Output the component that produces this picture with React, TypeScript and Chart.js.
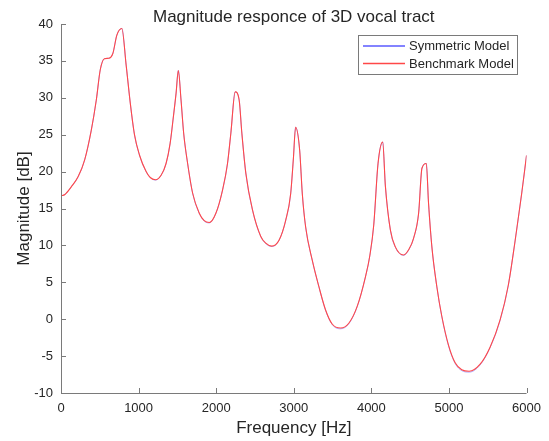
import React, { useEffect, useRef } from "react";
import { Chart, registerables } from "chart.js";

Chart.register(...registerables);

const frequencyHz = [
  0, 50, 130, 220, 305, 390, 455, 506, 560, 615,
  668, 720, 784, 840, 896, 947, 1011, 1097, 1150, 1217,
  1290, 1354, 1406, 1448, 1483, 1512, 1547, 1581, 1632, 1696,
  1782, 1846, 1911, 1996, 2082, 2146, 2189, 2245, 2296, 2331,
  2382, 2468, 2575, 2639, 2716, 2810, 2896, 2960, 2994, 3024,
  3076, 3110, 3153, 3238, 3324, 3410, 3495, 3603, 3709, 3816,
  3924, 3980, 4031, 4086, 4146, 4181, 4245, 4309, 4416, 4480,
  4545, 4609, 4652, 4708, 4737, 4780, 4844, 4908, 4994, 5080,
  5165, 5260, 5402, 5530, 5659, 5765, 5851, 5937, 6000,
];

const benchmarkDb = [
  16.7, 16.9, 17.9, 19.3, 21.6, 25.6, 29.7, 33.8, 35.3, 35.35,
  36.0, 38.5, 39.4, 34.4, 29.0, 25.0, 22.25, 20.0, 19.2, 18.9,
  19.5, 21.1, 23.8, 27.4, 30.6, 33.7, 29.7, 25.2, 21.1, 17.1,
  14.35, 13.35, 13.1, 14.35, 17.5, 21.1, 25.2, 30.8, 29.7, 25.2,
  19.8, 14.8, 11.2, 10.3, 9.9, 10.7, 13.4, 17.0, 21.6, 26.0,
  22.9, 17.0, 12.5, 8.0, 4.4, 1.25, -0.65, -1.2, -0.55, 1.7,
  5.75, 8.6, 12.8, 21.1, 24.0, 18.0, 12.1, 9.8, 8.7, 9.4,
  11.0, 14.35, 20.45, 21.1, 15.7, 9.8, 4.4, 0.4, -3.5, -5.9,
  -6.85, -7.05, -6.1, -3.8, -0.1, 4.6, 10.5, 17.0, 22.2,
];

const symmetricDb = [
  16.7, 16.9, 17.9, 19.3, 21.6, 25.6, 29.7, 33.8, 35.3, 35.35,
  36.0, 38.5, 39.4, 34.4, 29.0, 25.0, 22.25, 20.0, 19.2, 18.85,
  19.5, 21.1, 23.8, 27.4, 30.6, 33.7, 29.7, 25.2, 21.1, 17.1,
  14.35, 13.3, 13.05, 14.35, 17.5, 21.1, 25.2, 30.8, 29.7, 25.2,
  19.8, 14.8, 11.2, 10.25, 9.85, 10.7, 13.4, 17.0, 21.6, 26.0,
  22.9, 17.0, 12.5, 8.0, 4.4, 1.2, -0.72, -1.3, -0.62, 1.65,
  5.75, 8.6, 12.8, 21.1, 24.0, 18.0, 12.1, 9.75, 8.65, 9.35,
  11.0, 14.35, 20.45, 21.1, 15.7, 9.8, 4.4, 0.35, -3.6, -6.0,
  -6.97, -7.17, -6.2, -3.85, -0.15, 4.6, 10.5, 17.0, 22.2,
];

const seriesLabels = ["Symmetric Model", "Benchmark Model"];
const xTickValues = [0, 1000, 2000, 3000, 4000, 5000, 6000];
const yTickValues = [-10, -5, 0, 5, 10, 15, 20, 25, 30, 35, 40];
const chartTitle = "Magnitude responce of 3D vocal tract";
const xAxisTitle = "Frequency [Hz]";
const yAxisTitle = "Magnitude [dB]";

const FONT = '"Liberation Sans", Arial, Helvetica, sans-serif';
const TEXT = "#262626";
const AXIS = "#7a7a7a";
const BLUE = "#5a5aff";
const RED = "#ff4848";
const seriesColors = [BLUE, RED];

const decorPlugin = {
  id: "decor",
  afterDraw(chart: any) {
    const { ctx, chartArea } = chart;
    const { left, right, top, bottom } = chartArea;
    const xs = chart.scales.x;
    const ys = chart.scales.y;
    ctx.save();
    ctx.strokeStyle = AXIS;
    ctx.lineWidth = 1;
    ctx.beginPath();
    ctx.moveTo(left + 0.5, top);
    ctx.lineTo(left + 0.5, bottom + 0.5);
    ctx.lineTo(right, bottom + 0.5);
    ctx.stroke();
    ctx.beginPath();
    xTickValues.forEach((v) => {
      const px = Math.round(xs.getPixelForValue(v)) + 0.5;
      ctx.moveTo(px, bottom);
      ctx.lineTo(px, bottom - 5);
    });
    yTickValues.forEach((v) => {
      const py = Math.round(ys.getPixelForValue(v)) + 0.5;
      ctx.moveTo(left, py);
      ctx.lineTo(left + 5, py);
    });
    ctx.stroke();

    ctx.fillStyle = TEXT;
    ctx.font = `17px ${FONT}`;
    ctx.textAlign = "center";
    ctx.textBaseline = "alphabetic";
    ctx.fillText(chartTitle, (left + right) / 2, 21.5);
    ctx.fillText(xAxisTitle, (left + right) / 2, 433);
    ctx.save();
    ctx.translate(28.5, (top + bottom) / 2);
    ctx.rotate(-Math.PI / 2);
    ctx.fillText(yAxisTitle, 0, 0);
    ctx.restore();

    const bx = 358.5, by = 35.5, bw = 159, bh = 39;
    ctx.fillStyle = "#ffffff";
    ctx.fillRect(bx, by, bw, bh);
    ctx.strokeStyle = AXIS;
    ctx.lineWidth = 1;
    ctx.strokeRect(bx, by, bw, bh);
    const rows = [46, 63.5];
    ctx.font = `13px ${FONT}`;
    ctx.textAlign = "left";
    ctx.textBaseline = "middle";
    chart.data.datasets.forEach((ds: any, i: number) => {
      ctx.strokeStyle = seriesColors[i];
      ctx.lineWidth = 1.4;
      ctx.beginPath();
      ctx.moveTo(363, rows[i]);
      ctx.lineTo(405, rows[i]);
      ctx.stroke();
      ctx.fillStyle = TEXT;
      ctx.fillText(ds.label, 409, rows[i] + 0.5);
    });
    ctx.restore();
  },
};

export default function App() {
  const ref = useRef<HTMLCanvasElement | null>(null);
  useEffect(() => {
    document.body.style.margin = "0";
    const canvas = ref.current;
    if (!canvas) return;
    const chart = new Chart(canvas, {
      type: "line",
      data: {
        datasets: [
          {
            label: seriesLabels[0],
            data: frequencyHz.map((f, i) => ({ x: f, y: symmetricDb[i] })),
            borderColor: BLUE,
            borderWidth: 0.5,
            pointRadius: 0,
            fill: false,
            cubicInterpolationMode: "monotone",
            order: 2,
          },
          {
            label: seriesLabels[1],
            data: frequencyHz.map((f, i) => ({ x: f, y: benchmarkDb[i] })),
            borderColor: RED,
            borderWidth: 1.1,
            pointRadius: 0,
            fill: false,
            cubicInterpolationMode: "monotone",
            order: 1,
          },
        ],
      },
      options: {
        responsive: false,
        animation: false,
        events: [],
        layout: { padding: { left: 8, right: 21, top: 24, bottom: 0 } },
        plugins: {
          legend: { display: false },
          title: { display: false },
          tooltip: { enabled: false },
        },
        scales: {
          x: {
            type: "linear",
            min: 0,
            max: 6000,
            afterFit: (s: any) => {
              s.height = 48;
            },
            afterBuildTicks: (s: any) => {
              s.ticks = xTickValues.map((v) => ({ value: v }));
            },
            grid: { display: false, drawTicks: false },
            border: { display: false },
            ticks: {
              padding: 8,
              color: TEXT,
              font: { family: FONT, size: 13 },
              maxRotation: 0,
              autoSkip: false,
              callback: (v: any) => String(v),
            },
          },
          y: {
            type: "linear",
            min: -10,
            max: 40,
            afterFit: (s: any) => {
              s.width = 53;
            },
            afterBuildTicks: (s: any) => {
              s.ticks = yTickValues.map((v) => ({ value: v }));
            },
            grid: { display: false, drawTicks: false },
            border: { display: false },
            ticks: {
              padding: 8,
              color: TEXT,
              font: { family: FONT, size: 13 },
              autoSkip: false,
              callback: (v: any) => String(v),
            },
          },
        },
      },
      plugins: [decorPlugin],
    });
    return () => chart.destroy();
  }, []);
  return (
    <div style={{ width: 549, height: 441, background: "#ffffff" }}>
      <canvas ref={ref} width={549} height={441} style={{ display: "block" }} />
    </div>
  );
}
